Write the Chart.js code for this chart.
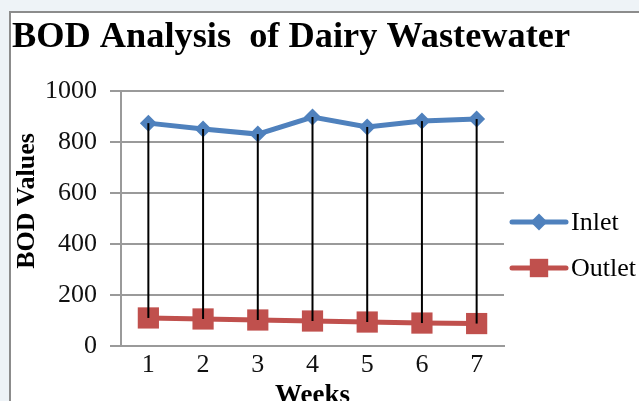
<!DOCTYPE html>
<html>
<head>
<meta charset="utf-8">
<script src="https://cdn.jsdelivr.net/npm/chart.js@4/dist/chart.umd.min.js"></script>
<style>
  html, body { margin: 0; padding: 0; background: #eef3f7; overflow: hidden; }
  #frame { position: absolute; left: 9px; top: 11px; width: 700px; height: 460px;
           border: 2px solid #8c8c8c; background: #fff; }
  canvas { position: absolute; left: 0; top: 0; }
</style>
</head>
<body>
<div id="frame"></div>
<canvas id="c" width="639" height="401"></canvas>
<script>
const weeks = ["1", "2", "3", "4", "5", "6", "7"];
const inlet = [874, 851, 831, 898, 859, 882, 890];
const outlet = [110, 106, 102, 98, 94, 90, 88];
const yTicks = [0, 200, 400, 600, 800, 1000];

const blue = "#4f81bd";
const red = "#c0504d";
const serif = "'Liberation Serif', 'DejaVu Serif', serif";

// title, high-low lines, y axis title and the legend
const extras = {
  id: "extras",
  afterDatasetsDraw(chart) {
    const ctx = chart.ctx;
    const a = chart.getDatasetMeta(0).data;
    const b = chart.getDatasetMeta(1).data;
    ctx.save();
    ctx.strokeStyle = "#000";
    ctx.lineWidth = 2;
    for (let i = 0; i < a.length; i++) {
      ctx.beginPath();
      ctx.moveTo(a[i].x, a[i].y);
      ctx.lineTo(b[i].x, b[i].y);
      ctx.stroke();
    }
    ctx.restore();
  },
  afterDraw(chart) {
    const ctx = chart.ctx;

    // the title is a bit wider than the font, stretch it to ~558px
    const title = "BOD Analysis  of Dairy Wastewater";
    ctx.save();
    ctx.fillStyle = "#000";
    ctx.font = "bold 36px " + serif;
    ctx.textAlign = "left";
    ctx.textBaseline = "alphabetic";
    const w = ctx.measureText(title).width;
    ctx.translate(12, 47);
    ctx.scale(558 / w, 1);
    ctx.fillText(title, 0, 0);
    ctx.restore();

    ctx.save();
    ctx.fillStyle = "#000";
    ctx.font = "bold 26px " + serif;
    ctx.translate(27, 201);
    ctx.rotate(-Math.PI / 2);
    ctx.textAlign = "center";
    ctx.textBaseline = "middle";
    ctx.fillText("BOD Values", 0, 0);
    ctx.restore();

    const items = [
      { label: "Inlet", color: blue, style: "rectRot", r: 8.5, y: 222 },
      { label: "Outlet", color: red, style: "rect", r: 13, y: 268 }
    ];
    ctx.save();
    for (const it of items) {
      ctx.strokeStyle = it.color;
      ctx.lineWidth = 5;
      ctx.lineCap = "round";
      ctx.beginPath();
      ctx.moveTo(512, it.y);
      ctx.lineTo(566, it.y);
      ctx.stroke();
      ctx.fillStyle = it.color;
      Chart.helpers.drawPoint(ctx, { pointStyle: it.style, radius: it.r, borderWidth: 0 }, 539, it.y);
      ctx.fillStyle = "#000";
      ctx.font = "26px " + serif;
      ctx.textAlign = "left";
      ctx.textBaseline = "middle";
      ctx.fillText(it.label, 571, it.y + 1);
    }
    ctx.restore();
  }
};

new Chart(document.getElementById("c"), {
  type: "line",
  data: {
    labels: weeks,
    datasets: [
      {
        label: "Inlet",
        data: inlet,
        borderColor: blue,
        backgroundColor: blue,
        borderWidth: 5,
        pointStyle: "rectRot",
        pointRadius: 8.5,
        pointBorderWidth: 0,
        tension: 0
      },
      {
        label: "Outlet",
        data: outlet,
        borderColor: red,
        backgroundColor: red,
        borderWidth: 5,
        pointStyle: "rect",
        pointRadius: 15,
        pointBorderWidth: 0,
        tension: 0
      }
    ]
  },
  options: {
    responsive: false,
    animation: false,
    layout: { padding: { left: 12, right: 135, top: 91, bottom: 0 } },
    plugins: {
      legend: { display: false },
      tooltip: { enabled: false },
      title: { display: false }
    },
    scales: {
      x: {
        offset: true,
        afterFit(s) { s.height = 55; },
        grid: { display: false },
        border: { color: "#9a9a9a", width: 2 },
        ticks: { color: "#111", font: { family: serif, size: 26, lineHeight: 1 }, padding: -2 },
        title: {
          display: true,
          text: "Weeks",
          color: "#000",
          font: { family: serif, size: 27, weight: "bold", lineHeight: 0.4 },
          padding: { top: 0, bottom: 0 }
        }
      },
      y: {
        min: 0,
        max: 1000,
        afterFit(s) { s.width = 109; },
        afterBuildTicks(s) { s.ticks = yTicks.map(v => ({ value: v })); },
        grid: { color: "#9a9a9a", lineWidth: 2, tickLength: 11 },
        border: { color: "#9a9a9a", width: 2 },
        ticks: {
          color: "#111",
          font: { family: serif, size: 26 },
          padding: 13,
          callback: v => String(v)
        }
      }
    }
  },
  plugins: [extras]
});
</script>
</body>
</html>
